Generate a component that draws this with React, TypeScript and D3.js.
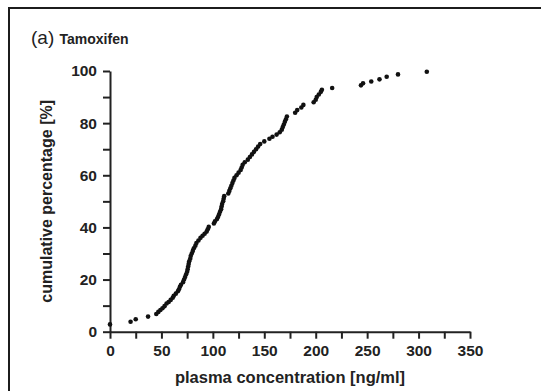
import React, { useEffect, useRef } from 'react';
import * as d3 from 'd3';

// plasma concentration [ng/ml]
const concentrations: number[] = [
    0, 20, 25, 37, 45, 47, 49, 51, 53, 55, 57, 59, 61, 62, 64, 66, 67, 68, 69, 71,
    72, 73, 74, 75, 75.5, 76, 76.5, 77, 78, 78.5, 79.5, 80.5, 81.5, 83, 84, 86, 88, 90, 92, 94,
    95, 96, 101, 102, 104, 105, 106, 107, 108, 108.5, 109, 110, 110.5, 111, 115, 116, 117, 118, 119, 120,
    121, 123, 125, 127, 128, 129, 131, 134, 136, 138, 140, 142, 144, 146, 150, 155, 158, 162, 165, 167,
    168, 169, 170, 171, 172, 180, 182, 186, 188, 198, 200, 201, 203, 205, 206, 216, 244, 246, 254, 262,
    269, 280, 308
];

// cumulative percentage [%] for each concentration above
const cumulative: number[] = [
    2.8, 3.8, 4.8, 5.8, 6.8, 7.6, 8.3, 9.0, 9.8, 10.8, 11.4, 12.2, 13.0, 13.8, 14.6, 15.5, 16.3, 17.2, 18.0, 19.0,
    20.0, 21.0, 22.0, 23.0, 24.0, 25.0, 26.0, 27.0, 28.0, 29.0, 30.0, 31.0, 32.0, 33.0, 34.0, 35.0, 36.0, 36.8, 37.6, 38.4,
    39.3, 40.2, 41.5, 42.3, 43.2, 44.0, 45.0, 46.0, 47.0, 48.0, 49.0, 50.0, 51.0, 52.0, 53.0, 54.0, 55.0, 56.0, 57.0, 58.0,
    59.0, 60.0, 61.0, 62.0, 63.0, 64.0, 65.0, 66.0, 67.0, 68.0, 69.0, 70.0, 71.0, 72.0, 73.0, 74.0, 74.8, 75.6, 76.5, 77.5,
    78.5, 79.5, 80.5, 81.5, 82.5, 84.0, 85.0, 86.0, 87.0, 88.0, 89.0, 90.0, 91.0, 92.0, 92.8, 93.5, 94.5, 95.3, 96.0, 96.8,
    97.8, 98.7, 99.7
];

const xTicks = [0, 50, 100, 150, 200, 250, 300, 350];
const yTicks = [0, 20, 40, 60, 80, 100];

const WIDTH = 541;
const HEIGHT = 391;
const PLOT = { left: 110, right: 470, top: 71, bottom: 331.7 };
const FONT = 'Liberation Sans, Arial, Helvetica, sans-serif';

const App: React.FC = () => {
    const svgRef = useRef<SVGSVGElement | null>(null);

    useEffect(() => {
        const svg = d3.select(svgRef.current);
        svg.selectAll('*').remove();

        svg.append('rect')
            .attr('x', 0).attr('y', 0)
            .attr('width', WIDTH).attr('height', HEIGHT)
            .attr('fill', '#fff');

        // frame around the panel (runs off right and bottom)
        svg.append('rect')
            .attr('x', 9).attr('y', 8)
            .attr('width', 700).attr('height', 700)
            .attr('fill', 'none')
            .attr('stroke', '#1c1c1c')
            .attr('stroke-width', 2);

        const x = d3.scaleLinear().domain([0, 350]).range([PLOT.left, PLOT.right]);
        const y = d3.scaleLinear().domain([0, 100]).range([PLOT.bottom, PLOT.top]);

        const xAxis = svg.append('g')
            .attr('transform', `translate(0,${PLOT.bottom})`)
            .call(d3.axisBottom(x).tickValues(d3.range(0, 351, 25)).tickSize(7).tickSizeOuter(0)
                .tickFormat(d => (xTicks.includes(+d) ? `${d}` : '')));

        const yAxis = svg.append('g')
            .attr('transform', `translate(${PLOT.left},0)`)
            .call(d3.axisLeft(y).tickValues(d3.range(0, 101, 10)).tickSize(7).tickSizeOuter(0)
                .tickFormat(d => (yTicks.includes(+d) ? `${d}` : '')));

        [xAxis, yAxis].forEach(ax => {
            ax.select('.domain').attr('stroke', '#222').attr('stroke-width', 2);
            ax.selectAll('.tick line').attr('stroke', '#222').attr('stroke-width', 2);
            ax.selectAll('.tick text')
                .attr('fill', '#222')
                .style('font-family', FONT)
                .style('font-size', '15.5px')
                .style('font-weight', 'bold');
        });
        xAxis.selectAll('.tick text').attr('dy', '0.71em').attr('y', 13);
        yAxis.selectAll('.tick text').attr('x', -13);

        svg.append('text')
            .attr('x', (PLOT.left + PLOT.right) / 2)
            .attr('y', 383)
            .attr('text-anchor', 'middle')
            .attr('fill', '#222')
            .style('font-family', FONT)
            .style('font-size', '16.5px')
            .style('font-weight', 'bold')
            .text('plasma concentration [ng/ml]');

        svg.append('text')
            .attr('transform', `translate(52,${(PLOT.top + PLOT.bottom) / 2}) rotate(-90)`)
            .attr('text-anchor', 'middle')
            .attr('fill', '#222')
            .style('font-family', FONT)
            .style('font-size', '16px')
            .style('font-weight', 'bold')
            .text('cumulative percentage [%]');

        const title = svg.append('text')
            .attr('x', 31)
            .attr('y', 44)
            .attr('fill', '#222')
            .style('font-family', FONT);
        title.append('tspan').style('font-size', '19px').text('(a) ');
        title.append('tspan').style('font-size', '14px').style('font-weight', 'bold').text('Tamoxifen');

        const points = concentrations.map((c, i) => ({ c, p: cumulative[i] }));
        svg.append('g')
            .selectAll('circle')
            .data(points)
            .enter()
            .append('circle')
            .attr('cx', d => x(d.c))
            .attr('cy', d => y(d.p))
            .attr('r', 2.3)
            .attr('fill', '#111');
    }, []);

    return (
        <svg
            ref={svgRef}
            width={WIDTH}
            height={HEIGHT}
            style={{ position: 'absolute', left: 0, top: 0 }}
        ></svg>
    );
};

export default App;
